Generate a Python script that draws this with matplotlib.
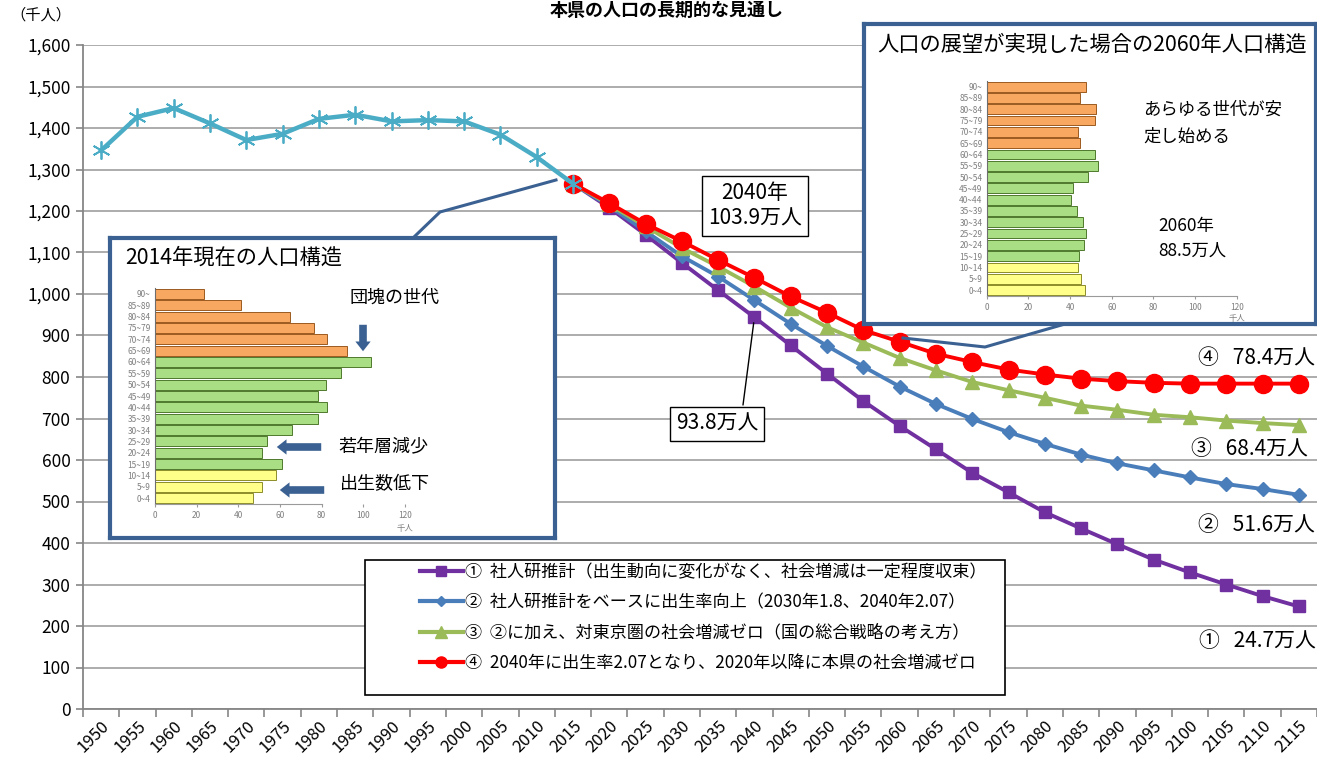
import matplotlib
matplotlib.use('Agg')
import matplotlib.pyplot as plt
from matplotlib.lines import Line2D
from matplotlib.patches import Rectangle, FancyArrowPatch
from matplotlib.ticker import FuncFormatter

plt.rcParams['font.family'] = ['Noto Sans CJK JP', 'DejaVu Sans']

# ---------------- data ----------------
years = ['1950', '1955', '1960', '1965', '1970', '1975', '1980', '1985', '1990',
         '1995', '2000', '2005', '2010', '2015', '2020', '2025', '2030', '2035',
         '2040', '2045', '2050', '2055', '2060', '2065', '2070', '2075', '2080',
         '2085', '2090', '2095', '2100', '2105', '2110', '2115']

# actual population (thousand people), 1950-2015
hist = [1346, 1427, 1448, 1411, 1371, 1386, 1422, 1432, 1416, 1419, 1416, 1384, 1330, 1266]

# projections 2015-2115
p1 = [1266, 1208, 1143, 1075, 1009, 944, 876, 808, 742, 682, 626, 569, 522, 474,
      435, 397, 360, 329, 300, 272, 247]
p2 = [1266, 1212, 1151, 1091, 1042, 985, 928, 875, 825, 777, 735, 699, 667, 639,
      613, 592, 575, 558, 542, 530, 516]
p3 = [1266, 1216, 1163, 1111, 1066, 1018, 967, 920, 883, 846, 816, 788, 768, 750,
      731, 721, 709, 703, 695, 689, 684]
p4 = [1266, 1219, 1169, 1127, 1082, 1039, 994, 955, 913, 885, 856, 836, 818, 806,
      796, 790, 786, 784, 784, 784, 784]

series_labels = [
    '①  社人研推計（出生動向に変化がなく、社会増減は一定程度収束）',
    '②  社人研推計をベースに出生率向上（2030年1.8、2040年2.07）',
    '③  ②に加え、対東京圏の社会増減ゼロ（国の総合戦略の考え方）',
    '④  2040年に出生率2.07となり、2020年以降に本県の社会増減ゼロ',
]
end_labels = ['①   24.7万人', '②   51.6万人', '③   68.4万人', '④   78.4万人']

# population pyramids (thousand people), bottom (0-4) to top (90+)
age_groups = ['0~4', '5~9', '10~14', '15~19', '20~24', '25~29', '30~34', '35~39',
              '40~44', '45~49', '50~54', '55~59', '60~64', '65~69', '70~74',
              '75~79', '80~84', '85~89', '90~']
pop2014 = [46.9, 51.2, 57.9, 61.1, 51.2, 53.9, 65.9, 78.2, 82.4, 78.2, 81.9, 89.4,
           103.5, 92.0, 82.4, 76.3, 64.8, 41.4, 23.4]
pop2060 = [47.0, 45.1, 44.0, 44.2, 46.9, 47.8, 46.4, 43.5, 40.3, 41.4, 48.5, 53.4,
           52.2, 44.6, 44.0, 51.8, 52.5, 45.0, 47.5]
age_band = ['y'] * 3 + ['g'] * 10 + ['o'] * 6

# ---------------- layout helpers ----------------
W, H = 1317, 764
def fx(x):
    return x / W
def fy(y):
    return 1 - y / H

fig = plt.figure(figsize=(W / 100, H / 100), dpi=100)
ax = fig.add_axes([fx(83), fy(709), (1317 - 83) / W, (709 - 45) / H])

xh = list(range(len(hist)))
xp = list(range(13, 13 + len(p1)))

lw = 2.8
ax.plot(xp, p1, color='#7030A0', lw=lw, marker='s', ms=8.5, zorder=3)
ax.plot(xp, p2, color='#4A7EBB', lw=lw, marker='D', ms=7.5, zorder=4)
ax.plot(xp, p3, color='#9BBB59', lw=lw, marker='^', ms=10.5, zorder=5)
ax.plot(xp, p4, color='#FF0000', lw=lw, marker='o', ms=13, zorder=6)
ax.plot(xh, hist, color='#4BACC6', lw=3.2, marker=(6, 2, 0), ms=13, mew=1.3,
        mec='#4BACC6', zorder=7)

ax.set_xlim(-0.5, len(years) - 0.5)
ax.set_ylim(0, 1600)
ax.set_yticks(range(0, 1601, 100))
ax.yaxis.set_major_formatter(FuncFormatter(lambda v, p: f'{int(v):,}'))
ax.tick_params(axis='y', labelsize=12.5, length=5, color='#868686', width=1.2, pad=4)
ax.grid(axis='y', color='#A6A6A6', lw=1.3)
ax.set_axisbelow(True)

ax.set_xticks([i - 0.5 for i in range(len(years) + 1)])
ax.set_xticklabels([])
ax.tick_params(axis='x', which='major', length=6, color='#868686', width=1.2)
ax.set_xticks(range(len(years)), minor=True)
ax.set_xticklabels(years, minor=True, rotation=45, ha='right', va='top',
                   rotation_mode='anchor', fontsize=12)
ax.tick_params(axis='x', which='minor', length=0, pad=6)

for s in ['top', 'right']:
    ax.spines[s].set_visible(False)
for s in ['left', 'bottom']:
    ax.spines[s].set_color('#868686')
    ax.spines[s].set_linewidth(1.3)

fig.text(fx(10), fy(15), '（千人）', fontsize=11, ha='left', va='center')
fig.text(fx(667), fy(1), '本県の人口の長期的な見通し', fontsize=13, fontweight='bold',
         ha='center', va='top')

# leader line for 93.8万人 (2040, series 1)
i2040 = years.index('2040')
ax.annotate('', xy=(i2040, p1[i2040 - 13]), xycoords='data',
            xytext=(fx(743), fy(405)), textcoords='figure fraction',
            arrowprops=dict(arrowstyle='-', color='black', lw=1, shrinkA=0, shrinkB=4),
            zorder=8)

# annotation boxes
fig.text(fx(755), fy(206), '2040年\n103.9万人', fontsize=15, ha='center', va='center',
         linespacing=1.2,
         bbox=dict(boxstyle='square,pad=0.3', fc='white', ec='black', lw=1), zorder=9)
fig.text(fx(717), fy(424), '93.8万人', fontsize=15, ha='center', va='center',
         bbox=dict(boxstyle='square,pad=0.3', fc='white', ec='black', lw=1), zorder=9)

# end labels
end_pos = [(1316, 641), (1315, 525), (1308, 449), (1315, 358)]
for lab, (x, y) in zip(end_labels, end_pos):
    fig.text(fx(x), fy(y), lab, fontsize=15, ha='right', va='center', zorder=9)

# ---------------- insets ----------------
box_col = '#3B6192'
face = {'o': '#F9A862', 'g': '#A9DE84', 'y': '#FFFF8A'}
edge = {'o': '#9C5A1E', 'g': '#4E7A2C', 'y': '#8C8C2A'}


def make_box(x0, y0, x1, y1):
    b = fig.add_axes([fx(x0), fy(y1), (x1 - x0) / W, (y1 - y0) / H])
    b.set_facecolor('white')
    b.set_xticks([])
    b.set_yticks([])
    for s in b.spines.values():
        s.set_color(box_col)
        s.set_linewidth(3)
    return b


def make_pyramid(x0, ybot, ytop, values, spine_max):
    pa = fig.add_axes([fx(x0), fy(ybot), 250 / W, (ybot - ytop) / H])
    pa.patch.set_alpha(0)
    pa.barh(range(len(values)), values, height=0.86,
            color=[face[b] for b in age_band], edgecolor=[edge[b] for b in age_band],
            lw=0.7)
    pa.set_xlim(0, 120)
    pa.set_ylim(-0.5, len(values) - 0.5)
    pa.set_xticks(range(0, 121, 20))
    pa.set_yticks(range(len(values)))
    pa.set_yticklabels(age_groups)
    pa.tick_params(axis='both', labelsize=6, labelcolor='#7F7F7F', color='#9A9A9A')
    pa.tick_params(axis='y', length=0, pad=3)
    pa.tick_params(axis='x', length=2, pad=3)
    for s in ['top', 'right']:
        pa.spines[s].set_visible(False)
    pa.spines['left'].set_color('#6E6E6E')
    pa.spines['bottom'].set_color('#9A9A9A')
    pa.spines['bottom'].set_bounds(0, spine_max)
    return pa


make_box(110, 238, 555, 538)
make_pyramid(155, 503.7, 288.3, pop2014, 80)
make_box(864, 24, 1316, 324)
make_pyramid(986.7, 295.7, 81, pop2060, 120)

fig.text(fx(405), fy(528), '千人', fontsize=6, color='#7F7F7F', ha='center', va='center')
fig.text(fx(1237), fy(318), '千人', fontsize=6, color='#7F7F7F', ha='center', va='center')

fig.text(fx(125), fy(258), '2014年現在の人口構造', fontsize=15.3, ha='left', va='center')
fig.text(fx(350), fy(298), '団塊の世代', fontsize=13, ha='left', va='center')
fig.text(fx(338), fy(447), '若年層減少', fontsize=13, ha='left', va='center')
fig.text(fx(340), fy(484), '出生数低下', fontsize=13, ha='left', va='center')

fig.text(fx(877), fy(45), '人口の展望が実現した場合の2060年人口構造', fontsize=15.3,
         ha='left', va='center')
fig.text(fx(1143), fy(110), 'あらゆる世代が安', fontsize=12.5, ha='left', va='center')
fig.text(fx(1143), fy(137), '定し始める', fontsize=12.5, ha='left', va='center')
fig.text(fx(1158), fy(226), '2060年', fontsize=12.5, ha='left', va='center')
fig.text(fx(1158), fy(251), '88.5万人', fontsize=12.5, ha='left', va='center')

# block arrows
for (xa, ya, xb, yb) in [(363, 322, 363, 354), (324, 447, 274, 447), (327, 490, 277, 490)]:
    fig.add_artist(FancyArrowPatch((fx(xa), fy(ya)), (fx(xb), fy(yb)),
                                   transform=fig.transFigure,
                                   arrowstyle='simple,head_width=11,head_length=7,tail_width=5.5',
                                   color=box_col, lw=0, zorder=10))

# connector lines
fig.add_artist(Line2D([fx(414), fx(440), fx(556)], [fy(237), fy(212), fy(180)],
                      transform=fig.transFigure, color=box_col, lw=2.2, zorder=10))
fig.add_artist(Line2D([fx(903), fx(985), fx(1065)], [fy(338), fy(347), fy(324)],
                      transform=fig.transFigure, color=box_col, lw=2.2, zorder=10))

# legend
fig.add_artist(Rectangle((fx(365), fy(695)), (1005 - 365) / W, (695 - 560) / H,
                         transform=fig.transFigure, fc='white', ec='black', lw=1.2,
                         zorder=11))
handles = [
    Line2D([], [], color='#7030A0', lw=3, marker='s', ms=7),
    Line2D([], [], color='#4A7EBB', lw=3, marker='D', ms=5.5),
    Line2D([], [], color='#9BBB59', lw=3, marker='^', ms=8),
    Line2D([], [], color='#FF0000', lw=3, marker='o', ms=8),
]
leg = fig.legend(handles, series_labels, loc='upper left',
                 bbox_to_anchor=(fx(420), fy(563)), frameon=False, fontsize=12.3,
                 handlelength=2.5, handletextpad=0.15, labelspacing=0.72,
                 borderpad=0, borderaxespad=0)
leg.set_zorder(12)

fig.savefig('out.png', dpi=100)
